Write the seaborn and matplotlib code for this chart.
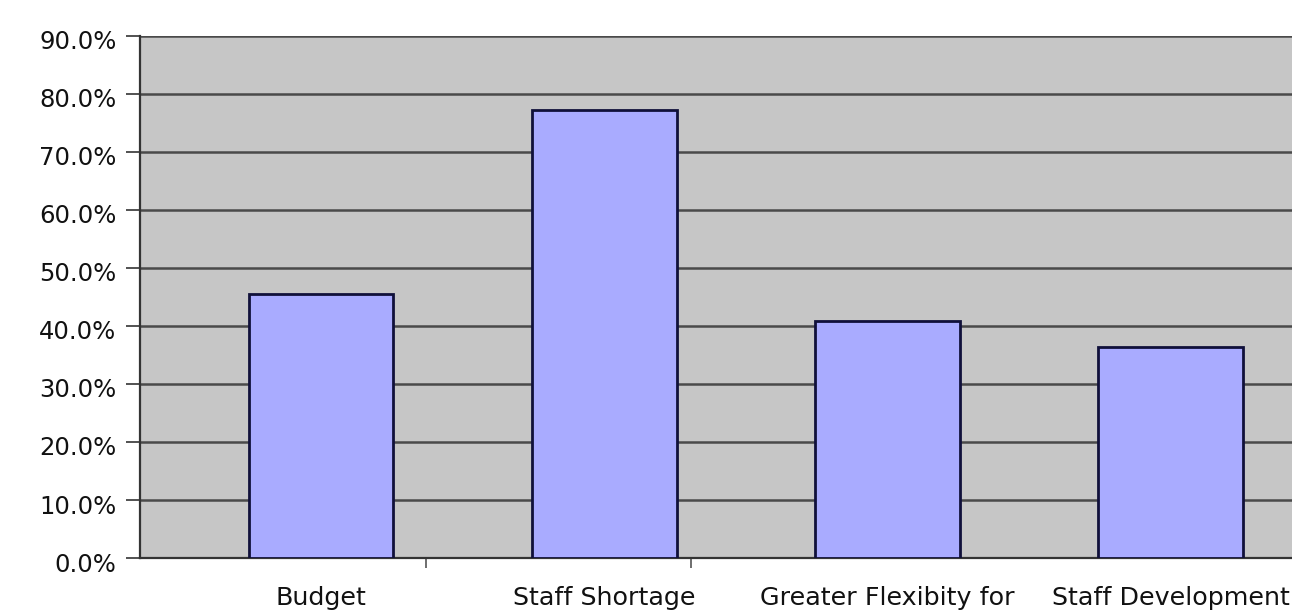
import matplotlib
matplotlib.use("Agg")
import matplotlib.pyplot as plt
import matplotlib.transforms as mtransforms
import seaborn as sns
import pandas as pd
from matplotlib.ticker import FuncFormatter, FixedLocator

categories = ["Budget", "Staff Shortage", "Greater Flexibity for", "Staff Development"]
values = [45.5, 77.3, 40.8, 36.3]
y_ticks = [0, 10, 20, 30, 40, 50, 60, 70, 80, 90]

sns.set_theme(style="white")
plt.rcParams["font.family"] = ["DejaVu Sans"]

df = pd.DataFrame({"category": categories, "value": values})

fig = plt.figure(figsize=(12.92, 6.14), dpi=100)
ax = fig.add_axes([0.1084, 0.0912, 0.8940, 0.8502])
ax.set_facecolor("#c6c6c6")

sns.barplot(data=df, x="category", y="value", color="#a9abff", width=0.51,
            edgecolor="#10103a", linewidth=2, saturation=1, ax=ax, zorder=3)

ax.set_ylim(0, 90)
ax.set_xlim(-0.64, 3.44)
ax.set_yticks(y_ticks)
ax.yaxis.set_major_formatter(FuncFormatter(lambda v, p: f"{v:.1f}%"))
ax.yaxis.grid(True, color="#4a4a4a", linewidth=1.8, zorder=1)
ax.set_axisbelow(True)

ax.set_xlabel("")
ax.set_ylabel("")
ax.tick_params(axis="y", which="major", direction="out", length=10, width=1.2,
               color="#333333", labelsize=17.5, labelcolor="#111111", pad=7, left=True)
ax.tick_params(axis="x", which="major", length=0, labelsize=18.3, labelcolor="#111111", pad=20)
ax.xaxis.set_minor_locator(FixedLocator([0.37, 1.305]))
ax.tick_params(axis="x", which="minor", direction="out", length=7, width=1.2,
               color="#555555", bottom=True)

# y tick labels sit slightly below their gridlines
shift = mtransforms.ScaledTranslation(0, -4 / 100, fig.dpi_scale_trans)
for lbl in ax.get_yticklabels():
    lbl.set_transform(lbl.get_transform() + shift)

for side in ["top", "right"]:
    ax.spines[side].set_visible(False)
for side in ["left", "bottom"]:
    ax.spines[side].set_color("#333333")
    ax.spines[side].set_linewidth(1.6)

fig.savefig("out.png", dpi=100, facecolor="white")
